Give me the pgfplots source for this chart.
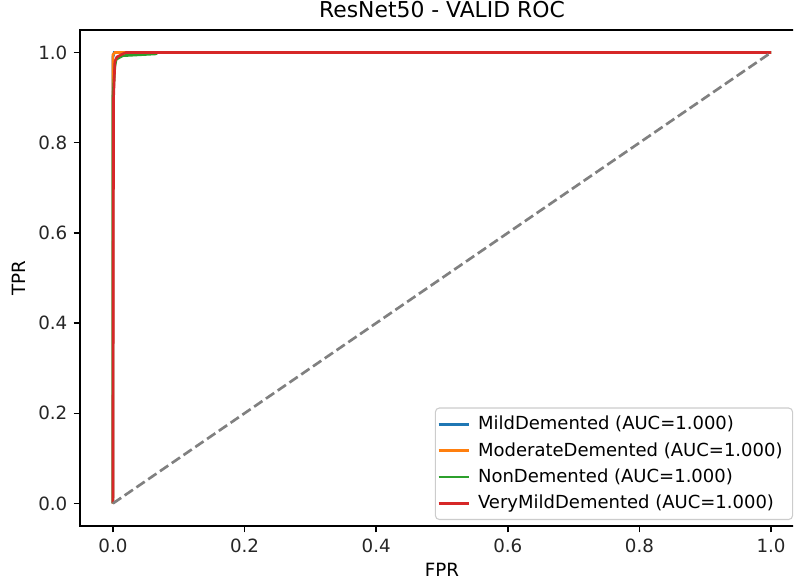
\documentclass[border=0pt]{standalone}
\usepackage{fontspec}
\setmainfont{DejaVu Sans}
\usepackage{pgfplots}
\pgfplotsset{compat=1.18}
\definecolor{tabblue}{HTML}{1F77B4}
\definecolor{taborange}{HTML}{FF7F0E}
\definecolor{tabgreen}{HTML}{2CA02C}
\definecolor{tabred}{HTML}{D62728}
\newcommand{\bfs}{\fontsize{13.5}{16.2}\selectfont}
\begin{document}
\bfs
\begin{tikzpicture}
\useasboundingbox (0,0) rectangle (595.5pt,440.25pt);
\clip (0,0) rectangle (594.9pt,440.25pt);
\begin{axis}[
  at={(60pt,45.75pt)}, anchor=south west,
  scale only axis, width=543pt, height=372pt,
  xmin=-0.05, xmax=1.05, ymin=-0.05, ymax=1.05,
  axis line style={draw=none},
  tick style={line width=1.1pt, black},
  tick align=outside, major tick length=4.8pt,
  xtick={0,0.2,0.4,0.6,0.8,1.0}, ytick={0,0.2,0.4,0.6,0.8,1.0},
  xtick pos=bottom, ytick pos=left,
  /pgf/number format/assume math mode=true,
  /pgf/number format/.cd, fixed, fixed zerofill, precision=1, /pgfplots/.cd,
  ticklabel style={font=\fontsize{13.7}{16.4}\selectfont, text=black!85},
  title={ResNet50 - VALID ROC},
  title style={font=\fontsize{16.4}{19.7}\selectfont, at={(axis description cs:0.5,1)}, anchor=south, yshift=3pt, inner sep=0pt},
  xlabel={FPR}, ylabel={TPR},
  xlabel style={font=\fontsize{13.7}{16.4}\selectfont, at={(axis description cs:0.5,-0.0746)}, anchor=north, inner sep=0pt},
  ylabel style={font=\fontsize{13.7}{16.4}\selectfont, at={(axis description cs:-0.0753,0.5)}, anchor=south, inner sep=0pt},
  legend style={at={(axis description cs:0.985,0.012)}, anchor=south east,
    draw=black!20, rounded corners=3pt, line width=0.8pt,
    font=\bfs, inner xsep=1.5pt, inner ysep=4pt,
    row sep=3.5pt, nodes={inner ysep=2pt, inner xsep=6pt}},
  legend cell align=left,
  legend image code/.code={\draw[#1, line width=2pt] (0pt,0pt) -- (22.5pt,0pt);},
  every axis plot/.append style={line width=2pt},
]
\addplot[tabblue] coordinates {(0,0) (0,0.99) (0.002,1) (1,1)};
\addlegendentry{MildDemented (AUC=1.000)}
\addplot[taborange] coordinates {(0,0) (0,0.995) (0.003,1) (1,1)};
\addlegendentry{ModerateDemented (AUC=1.000)}
\addplot[tabgreen] coordinates {(0,0) (0,0.9) (0.003,0.97) (0.005,0.985) (0.015,0.993) (0.065,0.997) (0.068,1) (1,1)};
\addlegendentry{NonDemented (AUC=1.000)}
\addplot[tabred] coordinates {(0,0) (0.001,0.9) (0.003,0.98) (0.006,0.99) (0.015,0.997) (0.02,1) (1,1)};
\addlegendentry{VeryMildDemented (AUC=1.000)}
\addplot[gray, line width=2pt, dash pattern=on 7.5pt off 3.2pt, forget plot] coordinates {(0,0) (1,1)};
\end{axis}
\draw[line width=1.1pt, black] (current axis.north east) -- (current axis.north west) -- (current axis.south west) -- (current axis.south east);
\end{tikzpicture}
\end{document}
